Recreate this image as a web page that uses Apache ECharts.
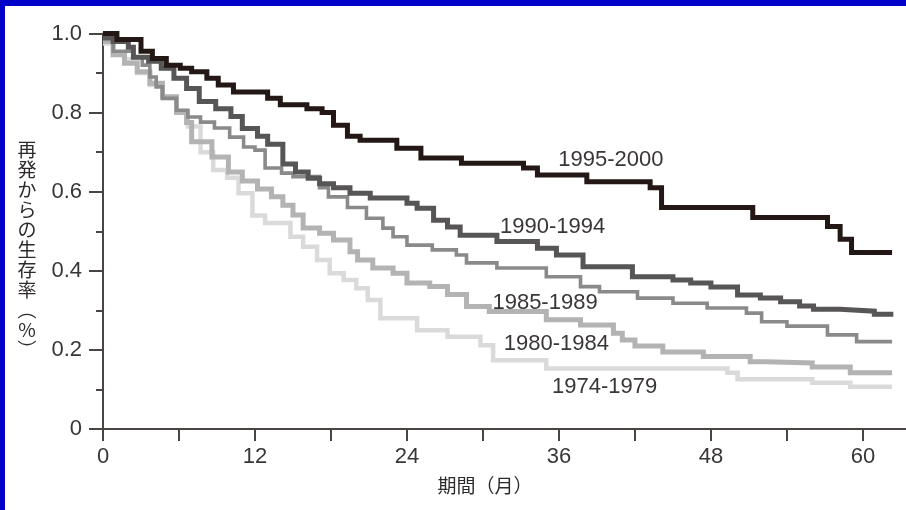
<!DOCTYPE html>
<html>
<head>
<meta charset="utf-8">
<script src="https://cdn.jsdelivr.net/npm/echarts@6/dist/echarts.min.js"></script>
<style>
html,body{margin:0;padding:0;background:#fff;}
#chart{width:906px;height:510px;}
</style>
</head>
<body>
<div id="chart"></div>
<script>
// ---- data (months, survival proportion), Kaplan-Meier steps ----
const seriesNames = ['1995-2000', '1990-1994', '1985-1989', '1980-1984', '1974-1979'];

const s1995 = [[0,1.0],[1.1,0.985],[3.0,0.955],[3.9,0.937],[5.0,0.92],[6.1,0.912],[7.0,0.903],[8.2,0.887],[9.1,0.87],[10.3,0.852],[13.0,0.836],[14.0,0.82],[16.1,0.81],[17.3,0.80],[18.2,0.768],[19.3,0.74],[20.3,0.73],[23.2,0.71],[25.1,0.685],[28.3,0.672],[33.2,0.66],[34.3,0.642],[38.2,0.625],[43.2,0.61],[44.1,0.56],[51.3,0.535],[57.2,0.512],[58.2,0.48],[59.1,0.446],[62.3,0.446]];

const s1990 = [[0,0.99],[0.8,0.98],[2.0,0.965],[2.4,0.94],[3.6,0.93],[4.6,0.912],[5.6,0.887],[6.6,0.861],[7.6,0.828],[8.9,0.81],[10.1,0.79],[11.0,0.76],[12.2,0.74],[13.0,0.72],[14.2,0.67],[15.2,0.65],[16.2,0.634],[17.1,0.62],[18.2,0.61],[19.5,0.596],[21.1,0.584],[24.0,0.571],[24.8,0.558],[26.1,0.528],[27.2,0.511],[28.2,0.49],[31.1,0.474],[34.3,0.457],[35.8,0.44],[37.9,0.41],[41.8,0.385],[45.0,0.377],[46.4,0.369],[48.0,0.359],[50.1,0.339],[51.9,0.331],[53.5,0.322],[55.0,0.311],[56.1,0.303],[58.2,0.298],[60.9,0.29],[62.4,0.29]];

const s1985 = [[0,0.985],[0.8,0.955],[2.4,0.94],[3.1,0.92],[3.7,0.89],[4.2,0.865],[4.7,0.836],[5.8,0.806],[6.7,0.789],[7.7,0.776],[8.8,0.761],[10.0,0.738],[11.1,0.713],[12.0,0.705],[12.8,0.66],[14.1,0.647],[15.0,0.638],[17.1,0.61],[17.8,0.587],[19.3,0.56],[20.8,0.533],[22.1,0.508],[22.9,0.486],[24.0,0.465],[26.0,0.453],[27.9,0.44],[28.7,0.42],[31.1,0.407],[35.0,0.385],[37.7,0.36],[39.2,0.347],[42.2,0.331],[45.0,0.318],[47.7,0.306],[50.8,0.293],[52.0,0.271],[54.0,0.26],[57.2,0.238],[59.5,0.221],[62.3,0.221]];

const s1980 = [[0,0.98],[0.8,0.946],[1.7,0.925],[2.7,0.903],[3.7,0.874],[4.7,0.84],[5.8,0.80],[6.6,0.775],[7.0,0.726],[8.6,0.688],[9.9,0.65],[11.0,0.627],[12.2,0.607],[13.3,0.587],[14.2,0.566],[15.0,0.541],[15.8,0.508],[17.1,0.495],[18.2,0.478],[19.5,0.448],[20.1,0.427],[21.3,0.407],[22.9,0.394],[24.0,0.369],[25.8,0.36],[27.2,0.34],[28.7,0.31],[30.5,0.297],[35.0,0.276],[37.7,0.263],[40.3,0.242],[41.0,0.225],[42.0,0.21],[44.2,0.195],[47.4,0.183],[51.1,0.17],[52.4,0.167],[56.0,0.157],[59.0,0.142],[62.3,0.142]];

const s1974 = [[0,0.975],[0.8,0.95],[1.7,0.935],[2.7,0.90],[3.7,0.87],[4.7,0.837],[5.8,0.80],[6.7,0.765],[7.7,0.70],[8.7,0.655],[9.8,0.635],[10.7,0.596],[11.8,0.54],[12.8,0.521],[14.8,0.486],[15.8,0.461],[16.9,0.427],[17.9,0.394],[19.0,0.377],[20.0,0.356],[20.9,0.326],[21.9,0.28],[24.8,0.25],[27.2,0.233],[29.8,0.212],[30.8,0.174],[35.0,0.153],[49.3,0.142],[50.1,0.126],[56.0,0.117],[59.0,0.107],[62.3,0.107]];

// where each period label sits (data coordinates: month, proportion)
const labelAnchors = [[40.1,0.681],[35.5,0.511],[34.9,0.319],[35.8,0.215],[39.6,0.107]];

const xTicks = [0,6,12,18,24,30,36,42,48,54,60];
const xTickLabels = [0,12,24,36,48,60];
const yTicks = [0,0.2,0.4,0.6,0.8,1.0];
const xName = '期間（月）';
const yNameChars = ['再','発','か','ら','の','生','存','率','︵','%','︶'];

// ---- chart ----
const seriesData = [s1995, s1990, s1985, s1980, s1974];
const colors = ['#231815', '#575555', '#8a8a8a', '#b3b3b3', '#dadada'];
const widths = [5, 5, 3.6, 5, 4.5];
const axisColor = '#4a4443';
const textColor = '#3a3636';
const latin = '"Liberation Sans", Arial, sans-serif';
const cjk = '"Noto Sans CJK JP", sans-serif';

const chart = echarts.init(document.getElementById('chart'), null, {renderer: 'canvas'});

const series = [];
for (let i = seriesData.length - 1; i >= 0; i--) {
  series.push({
    name: seriesNames[i],
    type: 'line',
    step: 'end',
    data: seriesData[i],
    showSymbol: false,
    symbol: 'none',
    silent: true,
    z: 10 - i,
    lineStyle: {color: colors[i], width: widths[i], join: 'miter', cap: 'butt'},
    markPoint: {
      silent: true,
      symbol: 'circle',
      symbolSize: 1,
      itemStyle: {color: 'rgba(0,0,0,0)'},
      label: {
        show: true, position: 'inside', formatter: '{b}',
        color: textColor, fontSize: 22, fontFamily: latin
      },
      data: [{name: seriesNames[i], coord: labelAnchors[i]}]
    }
  });
}

chart.setOption({
  animation: false,
  backgroundColor: '#ffffff',
  grid: {left: 103, right: 0, top: 33.5, bottom: 81, containLabel: false, outerBoundsMode: 'none'},
  xAxis: {
    type: 'value', min: 0, max: 63.4, interval: 6,
    splitLine: {show: false},
    axisLine: {show: true, onZero: false, lineStyle: {color: axisColor, width: 2}},
    axisTick: {show: true, inside: false, length: 12, lineStyle: {color: axisColor, width: 2}, customValues: xTicks},
    axisLabel: {
      show: true, margin: 17, color: textColor, fontSize: 22, fontFamily: latin,
      customValues: xTickLabels,
      formatter: v => String(v)
    },
    name: xName,
    nameLocation: 'middle',
    nameGap: 47,
    nameTextStyle: {color: '#2e2a2a', fontSize: 19, fontFamily: cjk, padding: [0, 39, 0, 0]}
  },
  yAxis: {
    type: 'value', min: 0, max: 1, interval: 0.2,
    splitLine: {show: false},
    axisLine: {show: true, onZero: false, lineStyle: {color: axisColor, width: 2}},
    axisTick: {show: true, inside: false, length: 14, lineStyle: {color: axisColor, width: 2}},
    minorTick: {show: true, splitNumber: 2, length: 7, lineStyle: {color: axisColor, width: 2}},
    axisLabel: {
      show: true, margin: 21, color: textColor, fontSize: 22, fontFamily: latin,
      formatter: v => {
        const t = yTicks.find(y => Math.abs(y - v) < 1e-6);
        if (t === undefined) return '';
        return t === 0 ? '0' : t.toFixed(1);
      }
    }
  },
  graphic: [
    {type: 'rect', shape: {x: 0, y: 0, width: 906, height: 6}, style: {fill: '#0000c8'}, z: 100},
    {type: 'rect', shape: {x: 0, y: 0, width: 5, height: 510}, style: {fill: '#0000c8'}, z: 100},
    {type: 'text', z: 100, style: {
      text: yNameChars.join('\n'), x: 27, y: 250,
      textAlign: 'center', textVerticalAlign: 'middle',
      font: '19px "Noto Sans CJK JP", sans-serif', lineHeight: 20, fill: '#2e2a2a'
    }}
  ],
  series: series
});
</script>
</body>
</html>
